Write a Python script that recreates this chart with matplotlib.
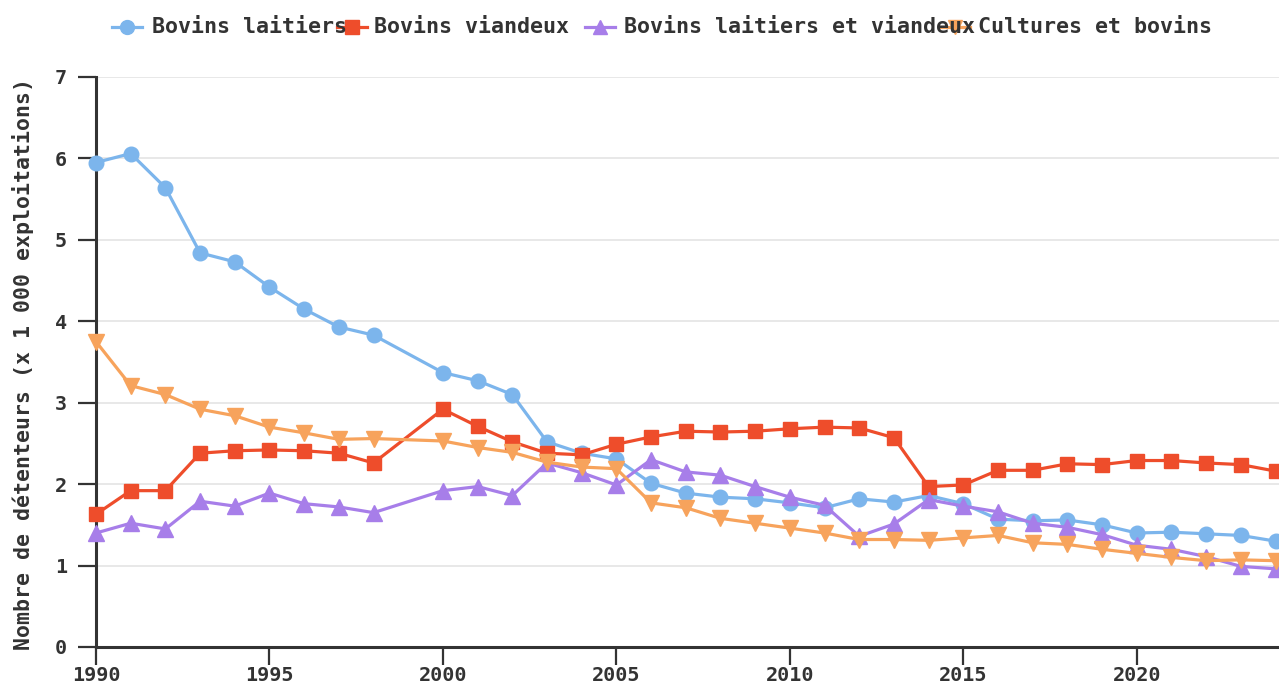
import matplotlib
matplotlib.use("Agg")
import matplotlib.pyplot as plt
from matplotlib.lines import Line2D

# Nombre de détenteurs par orientation (x 1 000 exploitations), 1999 absent
YEARS = list(range(1990, 1999)) + list(range(2000, 2025))

BOVINS_LAITIERS = [
    5.95, 6.06, 5.64, 4.84, 4.73, 4.42, 4.15, 3.93, 3.83,
    3.37, 3.27, 3.10, 2.52, 2.38, 2.31, 2.01, 1.89, 1.84, 1.82, 1.77,
    1.71, 1.82, 1.78, 1.86, 1.76, 1.57, 1.55, 1.56, 1.50, 1.40, 1.41,
    1.39, 1.37, 1.30,
]
BOVINS_VIANDEUX = [
    1.63, 1.92, 1.92, 2.38, 2.41, 2.42, 2.41, 2.38, 2.26,
    2.92, 2.71, 2.52, 2.38, 2.36, 2.49, 2.58, 2.65, 2.64, 2.65, 2.68,
    2.70, 2.69, 2.57, 1.97, 1.99, 2.17, 2.17, 2.25, 2.24, 2.29, 2.29,
    2.26, 2.24, 2.16,
]
BOVINS_MIXTES = [
    1.40, 1.52, 1.45, 1.79, 1.73, 1.89, 1.76, 1.72, 1.65,
    1.92, 1.97, 1.86, 2.26, 2.14, 1.99, 2.30, 2.15, 2.11, 1.97, 1.84,
    1.74, 1.36, 1.51, 1.81, 1.73, 1.66, 1.52, 1.47, 1.38, 1.25, 1.20,
    1.11, 0.99, 0.96,
]
CULTURES_BOVINS = [
    3.75, 3.21, 3.10, 2.92, 2.84, 2.70, 2.63, 2.55, 2.56,
    2.53, 2.45, 2.39, 2.27, 2.21, 2.19, 1.77, 1.71, 1.58, 1.52, 1.46,
    1.40, 1.32, 1.32, 1.31, 1.34, 1.37, 1.28, 1.26, 1.20, 1.15, 1.10,
    1.06, 1.07, 1.06,
]

LABELS = ["Bovins laitiers", "Bovins viandeux",
          "Bovins laitiers et viandeux", "Cultures et bovins"]
COLORS = ["#7cb5ec", "#ee4d2b", "#a77ee9", "#f7a35c"]
MARKERS = ["o", "s", "^", "v"]
SIZES = [10.5, 10.5, 11, 11]

plt.rcParams["font.family"] = "DejaVu Sans Mono"
plt.rcParams["font.weight"] = "bold"
plt.rcParams["text.color"] = "#333333"

W, H = 1279, 684
fig = plt.figure(figsize=(W / 100, H / 100), dpi=100)
ax = fig.add_axes([96 / W, 1 - 647 / H, (W - 96) / W, (647 - 77) / H])

series = [BOVINS_LAITIERS, BOVINS_VIANDEUX, BOVINS_MIXTES, CULTURES_BOVINS]
for vals, col, mk, ms in zip(series, COLORS, MARKERS, SIZES):
    ax.plot(YEARS, vals, color=col, lw=2.3, marker=mk, ms=ms,
            mec=col, mfc=col, clip_on=False, zorder=3)

ax.set_xlim(1990, 2024.1)
ax.set_ylim(0, 7)
ax.set_xticks(range(1990, 2021, 5))
ax.set_yticks(range(0, 8))
ax.grid(axis="y", color="#e6e6e6", lw=1.3)
ax.set_axisbelow(True)

for s in ["top", "right"]:
    ax.spines[s].set_visible(False)
for s in ["left", "bottom"]:
    ax.spines[s].set_color("#333333")
    ax.spines[s].set_linewidth(2.2)

ax.tick_params(axis="y", length=13, width=1.6, color="#333333",
               labelsize=14.5, pad=8, labelcolor="#333333")
ax.tick_params(axis="x", length=13, width=1.6, color="#333333",
               labelsize=14.5, pad=1, labelcolor="#333333")

fig.text(23 / W, 1 - 364 / H, "Nombre de détenteurs (x 1 000 exploitations)",
         rotation=90, ha="center", va="center", fontsize=15.5)

# legend drawn by hand so the entries sit where they are in the source
sym_x = [127, 352, 600, 955]
txt_x = [152, 374, 624, 978]
ly = 1 - 27 / H
for lab, col, mk, sx, tx in zip(LABELS, COLORS, MARKERS, sym_x, txt_x):
    fig.add_artist(Line2D([(sx - 15) / W, (sx + 15) / W], [ly, ly],
                          transform=fig.transFigure, color=col, lw=2.3))
    fig.add_artist(Line2D([sx / W], [ly], transform=fig.transFigure,
                          marker=mk, ms=10, color=col, mec=col))
    fig.text(tx / W, ly, lab, ha="left", va="center", fontsize=15.6)

fig.savefig("out.png", dpi=100)
